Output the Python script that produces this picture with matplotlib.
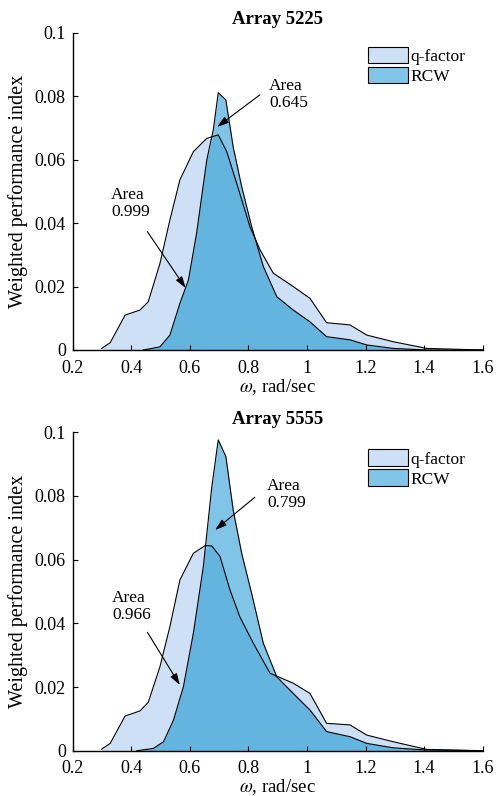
import numpy as np
import matplotlib
matplotlib.use("Agg")
import matplotlib.pyplot as plt
from matplotlib.patches import Patch

plt.rcParams['font.family'] = ['Liberation Serif', 'DejaVu Serif']
plt.rcParams['mathtext.fontset'] = 'stix'

# ---------------- data ----------------
titles = ["Array 5225", "Array 5555"]

q_x_top = [0.299, 0.328, 0.379, 0.430, 0.458, 0.498, 0.532, 0.566, 0.612, 0.658, 0.697, 0.726,
           0.760, 0.805, 0.840, 0.885, 0.953, 1.010, 1.067, 1.147, 1.204, 1.295, 1.409, 1.6]
q_y_top = [0.0005, 0.0023, 0.0110, 0.0126, 0.0152, 0.0273, 0.0410, 0.0536, 0.0625, 0.0667, 0.0678, 0.0625,
           0.0525, 0.0389, 0.0315, 0.0242, 0.0200, 0.0163, 0.0086, 0.0079, 0.0047, 0.0026, 0.0005, 0.0]
r_x_top = [0.441, 0.498, 0.532, 0.566, 0.595, 0.623, 0.658, 0.680, 0.697, 0.723, 0.748, 0.777,
           0.811, 0.851, 0.897, 0.953, 1.010, 1.067, 1.147, 1.204, 1.295, 1.409, 1.6]
r_y_top = [0.0, 0.0010, 0.0047, 0.0147, 0.0220, 0.0368, 0.0600, 0.0693, 0.0811, 0.0788, 0.0640, 0.0515,
           0.0389, 0.0263, 0.0168, 0.0126, 0.0089, 0.0042, 0.0032, 0.0016, 0.0005, 0.0, 0.0]

q_x_bot = [0.299, 0.328, 0.379, 0.430, 0.458, 0.498, 0.532, 0.566, 0.612, 0.652, 0.675, 0.703,
           0.737, 0.771, 0.817, 0.874, 0.953, 1.010, 1.067, 1.147, 1.204, 1.295, 1.409, 1.6]
q_y_bot = [0.0005, 0.0023, 0.0109, 0.0125, 0.0152, 0.0264, 0.0390, 0.0536, 0.0620, 0.0644, 0.0643, 0.0610,
           0.0505, 0.0420, 0.0337, 0.0243, 0.0212, 0.0180, 0.0086, 0.0081, 0.0049, 0.0028, 0.0004, 0.0]
r_x_bot = [0.419, 0.475, 0.510, 0.544, 0.578, 0.612, 0.646, 0.675, 0.697, 0.723, 0.748, 0.777,
           0.811, 0.851, 0.897, 0.953, 1.010, 1.067, 1.147, 1.204, 1.295, 1.409, 1.6]
r_y_bot = [0.0, 0.0007, 0.0028, 0.0096, 0.0201, 0.0369, 0.0578, 0.0829, 0.0976, 0.0924, 0.0756, 0.0620,
           0.0494, 0.0337, 0.0232, 0.0180, 0.0128, 0.0060, 0.0044, 0.0023, 0.0009, 0.0002, 0.0]

area_rcw = ["0.645", "0.799"]
area_q = ["0.999", "0.966"]

x_ticks = [0.2, 0.4, 0.6, 0.8, 1.0, 1.2, 1.4, 1.6]
x_ticklabels = ["0.2", "0.4", "0.6", "0.8", "1", "1.2", "1.4", "1.6"]
y_ticks = [0, 0.02, 0.04, 0.06, 0.08, 0.1]
y_ticklabels = ["0", "0.02", "0.04", "0.06", "0.08", "0.1"]

# annotation geometry (text pos, arrow tail, arrow head)
ann_rcw = [((0.871, 0.0858), (0.839, 0.0804), (0.693, 0.0703)),
           ((0.864, 0.0858), (0.822, 0.0796), (0.686, 0.0693))]
ann_q = [((0.331, 0.0515), (0.455, 0.0373), (0.586, 0.0195)),
         ((0.335, 0.0506), (0.455, 0.0372), (0.566, 0.0206))]
legend_anchor_y = [0.978, 0.968]

# ---------------- style ----------------
c_q = "#CEE0F6"
c_r = "#80C5E7"
c_ov = "#64B4E0"

W, H = 496, 796
fig = plt.figure(figsize=(W / 100, H / 100), dpi=100)

axes_px = [(72.7, 32.7, 482.7, 350.0), (72.7, 432.3, 482.7, 750.7)]
datasets = [(q_x_top, q_y_top, r_x_top, r_y_top), (q_x_bot, q_y_bot, r_x_bot, r_y_bot)]

for i, (l, t, r, b) in enumerate(axes_px):
    ax = fig.add_axes([l / W, 1 - b / H, (r - l) / W, (b - t) / H])
    qx, qy, rx, ry = [np.asarray(a) for a in datasets[i]]

    ax.fill_between(qx, 0, qy, color=c_q, lw=0)
    ax.fill_between(rx, 0, ry, color=c_r, lw=0)
    xu = np.union1d(qx, rx)
    ov = np.minimum(np.interp(xu, qx, qy, left=0, right=0), np.interp(xu, rx, ry, left=0, right=0))
    ax.fill_between(xu, 0, ov, color=c_ov, lw=0)
    ax.plot(qx, qy, color="k", lw=0.8)
    ax.plot(rx, ry, color="k", lw=0.8)

    ax.set_xlim(0.2, 1.6)
    ax.set_ylim(0, 0.1)
    ax.set_xticks(x_ticks)
    ax.set_xticklabels(x_ticklabels)
    ax.set_yticks(y_ticks)
    ax.set_yticklabels(y_ticklabels)
    ax.tick_params(direction="in", length=3.5, width=0.8, labelsize=13)
    ax.tick_params(axis="x", pad=7)
    ax.tick_params(axis="y", pad=5)
    for s in ["top", "right"]:
        ax.spines[s].set_visible(False)
    for s in ["left", "bottom"]:
        ax.spines[s].set_linewidth(1.0)

    ax.set_title(titles[i], fontsize=13.5, fontweight="bold", pad=6)
    ax.set_xlabel(r"$\omega$, rad/sec", fontsize=13.5, labelpad=0)
    ax.set_ylabel("Weighted performance index", fontsize=14.5, labelpad=5)

    handles = [Patch(facecolor=c_q, edgecolor="k", lw=0.8, label="q-factor"),
               Patch(facecolor=c_r, edgecolor="k", lw=0.8, label="RCW")]
    ax.legend(handles=handles, loc="upper right", bbox_to_anchor=(0.975, legend_anchor_y[i]),
              frameon=False, fontsize=12.5, handlelength=2.3, handleheight=1.1,
              handletextpad=0.15, labelspacing=0.1, borderaxespad=0)

    for (txt_pos, tail, head), val in ((ann_rcw[i], area_rcw[i]), (ann_q[i], area_q[i])):
        ax.text(txt_pos[0], txt_pos[1], "Area\n" + val, fontsize=12.5, va="top", ha="left",
                linespacing=1.1)
        ax.annotate("", xy=head, xytext=tail,
                    arrowprops=dict(arrowstyle="-|>,head_length=0.7,head_width=0.22",
                                    color="k", lw=0.8, shrinkA=0, shrinkB=0))

fig.savefig("out.png", dpi=100)
